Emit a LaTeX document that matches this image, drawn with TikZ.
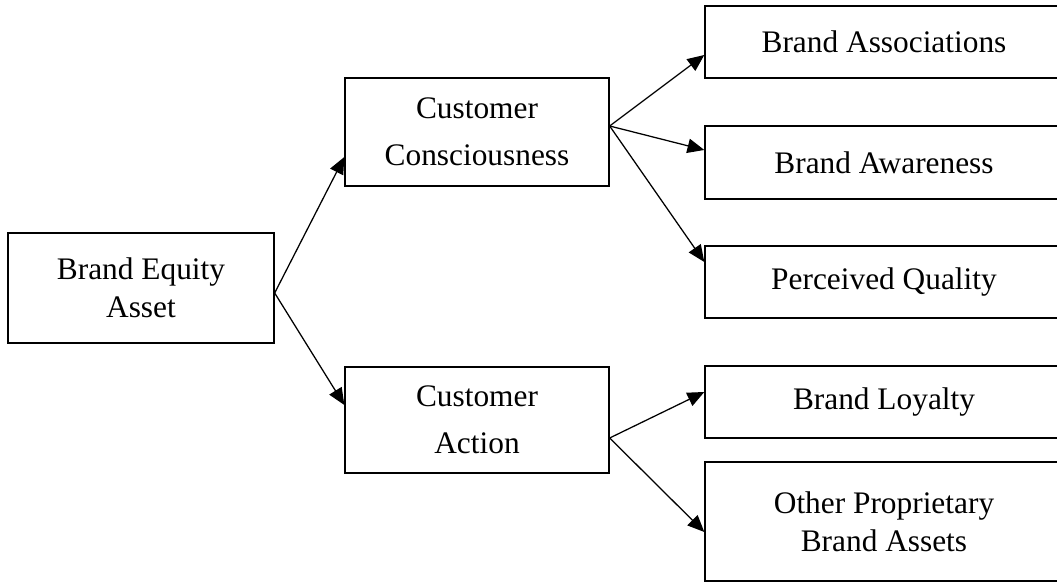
\documentclass[tikz,border=0pt]{standalone}
\usepackage{fontspec}
\setmainfont{Liberation Serif}
\usepackage{tikz}
\usetikzlibrary{positioning,arrows.meta,calc}

\begin{document}
\begin{tikzpicture}[
    x=0.025cm, y=-0.025cm,
    ebox/.style={draw, line width=0.9pt, align=center, inner sep=0pt,
                 font=\fontsize{22.3}{27}\selectfont},
    mbox/.style={ebox, minimum width=6.6cm, font=\fontsize{22.3}{33.5}\selectfont},
    rbox/.style={ebox, minimum width=8.95cm},
    arr/.style={-{Triangle[length=0.42cm,width=0.36cm]}, line width=0.9pt}
]
\useasboundingbox (0,0) rectangle (1057,582);
\clip (0,0) rectangle (1057,582);
\node[ebox, minimum width=6.65cm, minimum height=2.75cm] (bea) at (141,288)   {Brand Equity\\Asset};
\node[mbox, minimum height=2.7cm]   (cc)   at (477,132)   {Customer\\Consciousness};
\node[mbox, minimum height=2.65cm]  (ca)   at (477,420)   {Customer\\Action};
\node[rbox, minimum height=1.8cm]   (ba)   at (884,42)    {Brand Associations};
\node[rbox, minimum height=1.825cm] (baw)  at (884,162.5) {Brand Awareness};
\node[rbox, minimum height=1.8cm]   (pq)   at (884,282)   {Perceived Quality};
\node[rbox, minimum height=1.8cm]   (bl)   at (884,402)   {Brand Loyalty};
\node[rbox, minimum height=2.975cm] (opba) at (884,521.5) {Other Proprietary\\Brand Assets};
\coordinate (beaout) at ($(bea.east)+(0,5)$);
\coordinate (ccout)  at ($(cc.east)+(0,-6)$);
\coordinate (caout)  at ($(ca.east)+(0,18)$);
\draw[arr] (beaout) -- ($(cc.west)+(0,25)$);
\draw[arr] (beaout) -- ($(ca.west)+(0,-15)$);
\draw[arr] (ccout) -- ($(ba.west)+(0,13)$);
\draw[arr] (ccout) -- ($(baw.west)+(0,-12.5)$);
\draw[arr] (ccout) -- ($(pq.west)+(0,-20)$);
\draw[arr] (caout) -- ($(bl.west)+(0,-10)$);
\draw[arr] (caout) -- ($(opba.west)+(0,10.5)$);
\end{tikzpicture}
\end{document}
